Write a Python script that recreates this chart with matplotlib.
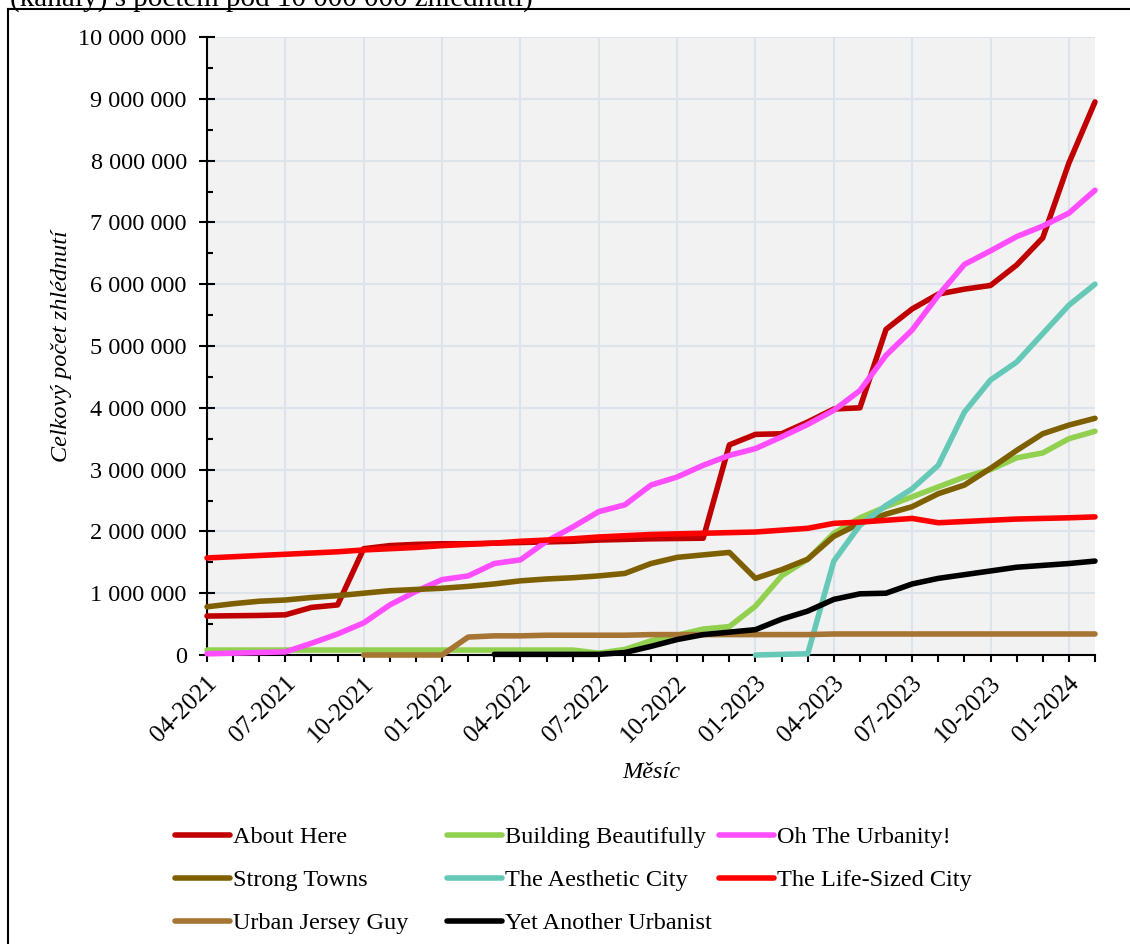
import numpy as np
import matplotlib
matplotlib.use("Agg")
import matplotlib.pyplot as plt
from matplotlib.ticker import MultipleLocator, FixedLocator, FuncFormatter
from matplotlib.lines import Line2D
import matplotlib.transforms as mtransforms

months = ["04-2021", "05-2021", "06-2021", "07-2021", "08-2021", "09-2021",
          "10-2021", "11-2021", "12-2021", "01-2022", "02-2022", "03-2022",
          "04-2022", "05-2022", "06-2022", "07-2022", "08-2022", "09-2022",
          "10-2022", "11-2022", "12-2022", "01-2023", "02-2023", "03-2023",
          "04-2023", "05-2023", "06-2023", "07-2023", "08-2023", "09-2023",
          "10-2023", "11-2023", "12-2023", "01-2024", "02-2024"]

nan = np.nan
# values in millions of views
about_here = [0.63, 0.635, 0.64, 0.65, 0.77, 0.81, 1.72, 1.77, 1.79, 1.80, 1.80, 1.81,
              1.82, 1.83, 1.84, 1.86, 1.87, 1.88, 1.885, 1.89, 3.40, 3.57, 3.58, 3.77,
              3.98, 4.00, 5.27, 5.60, 5.84, 5.92, 5.98, 6.31, 6.75, 7.96, 8.95]
building_beautifully = [0.08, 0.08, 0.08, 0.08, 0.08, 0.08, 0.08, 0.08, 0.08, 0.08, 0.08, 0.08,
                        0.08, 0.08, 0.08, 0.03, 0.09, 0.23, 0.32, 0.42, 0.46, 0.79, 1.28, 1.55,
                        1.97, 2.22, 2.40, 2.56, 2.72, 2.88, 3.00, 3.19, 3.27, 3.50, 3.62]
oh_the_urbanity = [0.02, 0.03, 0.04, 0.05, 0.19, 0.34, 0.52, 0.81, 1.03, 1.22, 1.28, 1.48,
                   1.54, 1.84, 2.07, 2.32, 2.43, 2.75, 2.88, 3.07, 3.23, 3.34, 3.53, 3.73,
                   3.96, 4.28, 4.85, 5.26, 5.82, 6.32, 6.54, 6.77, 6.94, 7.15, 7.52]
strong_towns = [0.78, 0.83, 0.87, 0.89, 0.93, 0.96, 1.00, 1.04, 1.06, 1.08, 1.11, 1.15,
                1.20, 1.23, 1.25, 1.28, 1.32, 1.48, 1.58, 1.62, 1.66, 1.24, 1.38, 1.55,
                1.92, 2.13, 2.28, 2.40, 2.61, 2.75, 3.02, 3.31, 3.58, 3.72, 3.83]
aesthetic_city = [nan] * 21 + [0.0, 0.01, 0.02, 1.52, 2.10, 2.42, 2.69, 3.07, 3.93, 4.45,
                               4.74, 5.20, 5.66, 6.00]
life_sized_city = [1.57, 1.59, 1.61, 1.63, 1.65, 1.67, 1.70, 1.72, 1.74, 1.77, 1.79, 1.81,
                   1.84, 1.86, 1.88, 1.91, 1.93, 1.95, 1.96, 1.97, 1.98, 1.99, 2.02, 2.05,
                   2.13, 2.15, 2.18, 2.21, 2.14, 2.16, 2.18, 2.20, 2.21, 2.22, 2.235]
urban_jersey_guy = [nan] * 6 + [0.0, 0.0, 0.0, 0.0, 0.29, 0.31, 0.31, 0.32, 0.32, 0.32, 0.32,
                                0.33, 0.33, 0.33, 0.33, 0.33, 0.33, 0.33, 0.34, 0.34, 0.34,
                                0.34, 0.34, 0.34, 0.34, 0.34, 0.34, 0.34, 0.34]
yet_another_urbanist = [nan] * 11 + [0.01, 0.01, 0.01, 0.01, 0.01, 0.04, 0.14, 0.25, 0.33,
                                     0.37, 0.41, 0.58, 0.71, 0.90, 0.99, 1.00, 1.15, 1.24,
                                     1.30, 1.36, 1.42, 1.45, 1.48, 1.52]

series_names = ["About Here", "Building Beautifully", "Oh The Urbanity!", "Strong Towns",
                "The Aesthetic City", "The Life-Sized City", "Urban Jersey Guy",
                "Yet Another Urbanist"]
series_values = [about_here, building_beautifully, oh_the_urbanity, strong_towns,
                 aesthetic_city, life_sized_city, urban_jersey_guy, yet_another_urbanist]
series_colors = ["#C00000", "#92D050", "#FF4DFF", "#7F6000",
                 "#66C9B8", "#FF0000", "#A67433", "#000000"]

plt.rcParams["font.family"] = ["Liberation Serif", "DejaVu Serif"]
FS = 17.5

W, H = 1130, 944
fig = plt.figure(figsize=(W / 100, H / 100), dpi=100)
ax = fig.add_axes([207 / W, 1 - 655 / H, (1095 - 207) / W, (655 - 37) / H])
ax.set_facecolor("#F2F2F2")

x = np.arange(len(months))
handles = []
for i, (name, vals, col) in enumerate(zip(series_names, series_values, series_colors)):
    ln, = ax.plot(x, np.array(vals, dtype=float) * 1e6, color=col, lw=4.0,
                  solid_joinstyle="round", solid_capstyle="round", label=name,
                  zorder=3 + i, clip_on=False)
    handles.append(ln)

ax.set_xlim(0, len(months) - 1)
ax.set_ylim(0, 1e7)

ax.yaxis.set_major_locator(MultipleLocator(1e6))
ax.yaxis.set_minor_locator(MultipleLocator(5e5))
ax.yaxis.set_major_formatter(FuncFormatter(lambda v, p: f"{int(round(v)):,}".replace(",", " ")))

major_idx = list(range(0, len(months), 3))
ax.xaxis.set_major_locator(FixedLocator(major_idx))
ax.xaxis.set_minor_locator(MultipleLocator(1))
ax.set_xticklabels([months[i] for i in major_idx])

ax.grid(True, which="major", color="#DDE3EA", lw=1.5)
ax.set_axisbelow(True)
for s in ["top", "right"]:
    ax.spines[s].set_visible(False)
for s in ["left", "bottom"]:
    ax.spines[s].set_linewidth(1.5)
    ax.spines[s].set_color("black")
    ax.spines[s].set_zorder(2.5)

ax.tick_params(axis="y", which="major", direction="inout", length=11, width=1.5,
               labelsize=FS, pad=9)
ax.tick_params(axis="y", which="minor", direction="in", length=4, width=1.5)
ax.tick_params(axis="x", which="both", direction="out", length=5, width=1.5)
ax.tick_params(axis="x", which="major", labelsize=FS + 0.5, pad=7.5)

offset = mtransforms.ScaledTranslation(-1 / 100, 0, fig.dpi_scale_trans)
for lab in ax.get_xticklabels():
    lab.set_rotation(45)
    lab.set_ha("right")
    lab.set_va("top")
    lab.set_rotation_mode("anchor")
    lab.set_transform(lab.get_transform() + offset)

ax.set_xlabel("Měsíc", fontsize=FS, style="italic", labelpad=11)
ax.set_ylabel("Celkový počet zhlédnutí", fontsize=FS, style="italic", labelpad=4.6)

# legend: three columns laid out like the reference (row-wise order)
col_x = [175, 447, 719]
cols = [[0, 3, 6], [1, 4, 7], [2, 5]]
for cx, idxs in zip(col_x, cols):
    fig.legend(handles=[handles[k] for k in idxs],
               labels=[series_names[k] for k in idxs],
               loc="upper left", bbox_to_anchor=(cx / W, 1 - 826 / H),
               frameon=False, borderpad=0, borderaxespad=0, fontsize=FS,
               handlelength=2.26, handletextpad=0.12, labelspacing=0.87)

# outer frame (partially visible) and cut-off heading
fig.add_artist(Line2D([8 / W, 8 / W], [-0.05, 1 - 9 / H], transform=fig.transFigure,
                      color="black", lw=1.5))
fig.add_artist(Line2D([8 / W, 1.05], [1 - 9 / H, 1 - 9 / H], transform=fig.transFigure,
                      color="black", lw=1.5))
fig.text(10 / W, 1 - 6 / H, "(kanály) s počtem pod 10 000 000 zhlédnutí)", fontsize=21,
         ha="left", va="baseline")

fig.savefig("out.png", dpi=100)
